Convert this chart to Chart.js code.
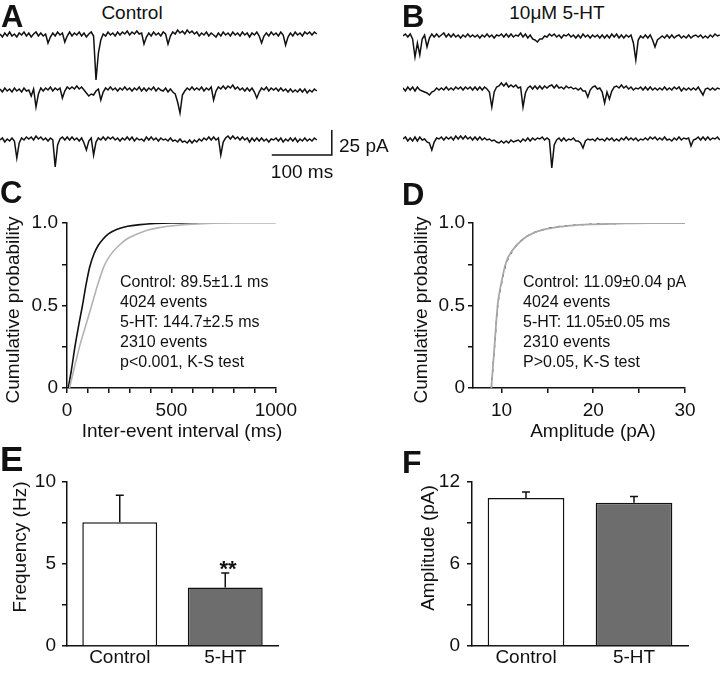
<!DOCTYPE html>
<html>
<head>
<meta charset="utf-8">
<script src="https://cdn.jsdelivr.net/npm/chart.js@4.4.0/dist/chart.umd.min.js"></script>
<style>
  html, body { margin: 0; padding: 0; background: #fff; }
  body { width: 720px; height: 673px; position: relative; overflow: hidden;
         font-family: "Liberation Sans", Arial, sans-serif; color: #111; }
  canvas { position: absolute; }
  .t { position: absolute; white-space: nowrap; line-height: 1; }
</style>
</head>
<body>
<canvas id="traceA1" width="345" height="60" style="left:0px;top:25px"></canvas>
<canvas id="traceA2" width="345" height="60" style="left:0px;top:80px"></canvas>
<canvas id="traceA3" width="345" height="60" style="left:0px;top:130px"></canvas>
<canvas id="traceB1" width="317" height="60" style="left:403px;top:27px"></canvas>
<canvas id="traceB2" width="317" height="60" style="left:403px;top:79px"></canvas>
<canvas id="traceB3" width="317" height="60" style="left:403px;top:130px"></canvas>
<canvas id="cdfInterval" width="303" height="246" style="left:0px;top:195px"></canvas>
<canvas id="cdfAmplitude" width="300" height="246" style="left:410px;top:195px"></canvas>
<canvas id="barFrequency" width="300" height="213" style="left:0px;top:460px"></canvas>
<canvas id="barAmplitude" width="300" height="213" style="left:410px;top:460px"></canvas>
<script>
// ---- data ----
// sample traces, pA relative to baseline, one sample every 4 ms
const sampleMs = 4;
const controlTrace1 = [
  1, -2, 2, -1, 3, -1, 1, -2, 2, 0,
  3, -1, 2, -2, 1, 3, -1, 2, -1, 1,
  -8, -2, 2, -1, 3, 0, 2, -7, -1, 3,
  -1, 2, 0, 3, -1, 2, -2, 1, 3, -1,
  -45, -18, -5, 1, -1, 3, 0, 2, -1, 3,
  0, 3, 1, 4, 0, 3, 1, 4, 1, 2,
  -9, -2, 2, -1, 3, 0, 2, -1, 3, 1,
  -9, -1, 3, 1, 5, 2, 4, 1, 5, 2,
  4, 1, 3, -1, 2, 0, 3, -1, 2, 0,
  -2, 2, -1, 3, 0, 2, -1, 3, 0, 2,
  -1, 3, 0, 2, -2, 2, 0, 3, -1, -8,
  -1, 2, -1, 3, 0, 2, -1, 3, 0, -10,
  -2, 2, -1, 3, 0, 2, -1, 3, 1, 3,
  0, 3, 1
];
const controlTrace2 = [
  1, -2, 2, -1, 1, -2, 2, -1, 1, -2,
  2, -1, 0, -6, 1, -17, -4, 2, -1, 2,
  0, 3, -1, 2, 0, 2, -8, -1, 3, 1,
  3, 1, 4, 1, 3, 0, -3, -6, -4, -5,
  -1, 1, -10, -2, 2, 0, 3, 0, 2, -1,
  2, 0, 3, 0, 2, -1, 2, 0, 3, -1,
  2, -1, 2, 0, 3, -1, 2, 0, -1, 2,
  -2, 1, -2, -4, -12, -23, -5, -1, 2, 0,
  3, 0, 2, 0, 3, -1, 2, 0, 3, -10,
  -1, 3, 1, 4, 1, 4, 2, 5, 1, 3,
  0, 2, -1, 2, -1, 2, -2, -8, -2, 2,
  0, 3, -1, 2, 0, 2, -1, 2, -1, 1,
  -2, 1, -2, 0, -2, 1, -2, 1, -3, 0,
  -2, 1, -1
];
const controlTrace3 = [
  0, 2, -2, 1, -1, 2, -1, -18, -3, 2,
  0, 3, 1, 3, 0, 4, 1, 3, 0, 2,
  -1, 2, 0, -27, -5, 1, 3, 0, 3, 0,
  3, 0, 2, -1, 2, -3, -10, -1, 2, -15,
  -2, 2, 0, 3, 0, 3, 1, 3, 0, 2,
  -1, 2, 0, 3, 0, 3, -1, 2, 0, 1,
  -1, 3, 0, 3, 0, 2, -1, 2, 0, 1,
  -1, 2, -1, 0, -2, 1, -2, -1, -3, 0,
  -3, 0, -2, 1, -1, 2, 0, 3, 0, 3,
  0, 2, -15, -2, 2, 4, 1, 4, 1, 3,
  0, 3, 0, 2, -2, 2, -1, 2, -1, 2,
  -1, 1, -2, 1, 0, 2, -1, 2, -2, 1,
  -1, 2, -1, 2, -2, 1, -1, 2, -1, 1,
  -1, 2, 0
];
const serotoninTrace1 = [
  1, 3, 0, 3, -2, -20, -6, -18, -2, 2,
  -10, -1, 3, 0, 3, 0, 2, 4, 0, 3,
  0, 3, 0, 2, -1, 2, 0, 3, 0, 2,
  0, 2, -1, 2, 0, 3, 0, 2, -1, 2,
  1, 3, 0, 3, 0, 3, 0, 2, 1, 4,
  0, 3, -1, 2, -2, -3, -5, -2, -2, 1,
  0, 3, 1, 3, 0, 2, -1, 2, 1, 3,
  0, 2, -1, 2, -1, 3, 0, 2, -1, 2,
  0, 2, -1, 2, -1, 2, -1, 3, 0, 3,
  -1, 2, -1, 2, 0, 2, -6, -23, -3, 1,
  -1, 2, -1, 2, -3, -10, -3, -1, 1, -1,
  2, -1, 2, -1, 1, 2, -1, 1, -1, 2,
  -1, 1, 2, 0, 2, -1, 1, -1, 2, 0,
  3, 1, 2
];
const serotoninTrace2 = [
  1, -2, 2, -1, 2, -2, 2, -1, -2, -3,
  -4, -6, -3, -2, 1, -1, 1, -1, 2, -1,
  1, -1, 2, 0, 2, -1, 2, 0, 2, -1,
  2, -1, 2, -1, 2, 0, -3, -18, -3, 2,
  3, 6, 3, 6, 2, 4, 2, 4, 1, 2,
  -18, -4, 1, 3, 0, 3, 0, 3, 0, 3,
  1, 3, 4, 1, 4, 1, 2, 0, 3, 1,
  2, 0, 1, -1, 1, -2, -2, -8, -1, 2,
  3, 0, 1, -3, -14, -3, -10, -2, 2, 3,
  1, 4, 1, 3, 0, 2, -1, 1, 0, 2,
  -1, 2, -1, 2, -1, 1, -1, 1, -1, 2,
  -1, 1, -1, 2, 0, 2, -2, 1, -1, 1,
  -1, 1, -1, 2, -2, -6, 0, 1, -1, 1,
  -1, 1, 0
];
const serotoninTrace3 = [
  1, 3, -1, 2, -1, 3, -1, 3, 0, 1,
  -2, -3, -10, -2, 2, 1, 3, 0, 3, 1,
  3, 0, 4, 1, 4, 1, 4, 1, 3, 0,
  3, 0, 3, 0, 2, 0, 1, -1, 0, -2,
  -3, -1, -3, -1, -3, 0, -2, -1, 0, -2,
  1, -1, 2, -1, 2, 0, 2, 1, 3, 0,
  2, 0, -28, -5, 0, 2, -1, 2, -1, 1,
  0, 2, -1, -1, -3, -8, -1, 1, 0, 1,
  -1, 2, 0, 1, -1, 2, 0, 2, -1, 1,
  -1, 2, 0, 3, 0, 2, 0, 2, -1, 1,
  0, 2, 0, 3, 1, 3, 0, 2, 0, 3,
  0, 1, -1, 2, 0, 3, 0, 2, 1, 2,
  -6, 0, 1, 3, 0, 3, 0, 3, 0, 2,
  1, 3, 0
];
const scaleBarMs = 100;
const scaleBarPa = 25;

// cumulative distributions
const intervalControlMs = [6, 20, 38, 56, 74, 91, 109, 130, 150, 171, 200, 240, 290, 350, 420, 500, 700];
const intervalControlProb = [0, 0.1, 0.25, 0.38, 0.5, 0.625, 0.735, 0.815, 0.865, 0.9, 0.935, 0.962, 0.98, 0.99, 0.997, 1, 1];
const interval5htMs = [12, 25, 40, 62, 90, 118, 148, 178, 210, 250, 283, 330, 380, 440, 520, 600, 800, 1000];
const interval5htProb = [0, 0.07, 0.15, 0.26, 0.38, 0.5, 0.63, 0.74, 0.81, 0.865, 0.9, 0.93, 0.955, 0.972, 0.985, 0.993, 1, 1];
const ampControlPa = [8.9, 9.25, 9.6, 10.0, 10.5, 11.2, 12.3, 13.5, 15.3, 17.5, 20, 23, 26, 30];
const ampControlProb = [0, 0.25, 0.5, 0.63, 0.75, 0.83, 0.9, 0.94, 0.97, 0.985, 0.993, 0.997, 1, 1];
const amp5htPa = [8.9, 9.25, 9.6, 10.0, 10.5, 11.2, 12.3, 13.5, 15.3, 17.5, 20, 23, 26, 30];
const amp5htProb = [0, 0.26, 0.51, 0.64, 0.76, 0.835, 0.9, 0.94, 0.968, 0.984, 0.992, 0.997, 1, 1];

// bar summaries
const groups = ['Control', '5-HT'];
const frequencyHz = [7.55, 3.56];
const frequencySem = [1.64, 0.89];
const amplitudePa = [10.83, 10.49];
const amplitudeSem = [0.44, 0.44];

// ticks
const probTicks = [0, 0.25, 0.5, 0.75, 1];
const probLabels = [0, 0.5, 1];
const probText = ['0', '0.5', '1.0'];
const intervalTicks = [0, 100, 200, 300, 400, 500, 600, 700, 800, 900, 1000];
const intervalLabels = [0, 500, 1000];
const ampTicks = [10, 15, 20, 25, 30];
const ampLabels = [10, 20, 30];
const freqTicks = [0, 2.5, 5, 7.5, 10];
const freqLabels = [0, 5, 10];
const barAmpTicks = [0, 3, 6, 9, 12];
const barAmpLabels = [0, 6, 12];

// ---- setup ----
Chart.defaults.font.family = '"Liberation Sans", Arial, sans-serif';
Chart.defaults.color = '#111';
Chart.defaults.animation = false;
Chart.defaults.responsive = false;
Chart.defaults.plugins.legend.display = false;
Chart.defaults.plugins.tooltip.enabled = false;

const ink = '#111';
const pxPerMs = 0.6; // 100 ms bar is 60 px wide

function toPoints(xs, ys) {
  return xs.map((x, i) => ({ x: x, y: ys[i] }));
}

function traceChart(id, values, extra) {
  const canvas = document.getElementById(id);
  const datasets = [{
    data: values.map((v, i) => ({ x: i * sampleMs, y: v })),
    borderColor: ink, borderWidth: 1.5, pointRadius: 0, tension: 0, clip: false
  }];
  if (extra) datasets.push(extra);
  return new Chart(canvas, {
    type: 'line',
    data: { datasets: datasets },
    options: {
      layout: { padding: 0 },
      scales: {
        x: { type: 'linear', display: false, min: 0, max: canvas.width / pxPerMs },
        y: { display: false, min: -50, max: 10 }
      }
    }
  });
}

function axis(size, vertical, ticks, labelVals, labelText, pad, extra) {
  return Object.assign({
    afterFit: s => { if (vertical) s.width = size; else s.height = size; },
    afterBuildTicks: s => { s.ticks = ticks.map(v => ({ value: v })); },
    ticks: {
      autoSkip: false, maxRotation: 0, padding: pad, color: ink, font: { size: 19 },
      callback: v => {
        const k = labelVals.indexOf(v);
        return k >= 0 ? (labelText ? labelText[k] : String(v)) : '';
      }
    },
    grid: { drawOnChartArea: false, drawTicks: true, tickLength: 5, color: ink, lineWidth: 1.5 },
    border: { color: ink, width: 1.5 }
  }, extra);
}

// error bars drawn upward from the top of each bar
const errorBars = {
  id: 'errorBars',
  afterDatasetsDraw(chart) {
    const ctx = chart.ctx;
    const y = chart.scales.y;
    chart.data.datasets.forEach((ds, di) => {
      if (!ds.errors) return;
      chart.getDatasetMeta(di).data.forEach((bar, i) => {
        const top = y.getPixelForValue(ds.data[i] + ds.errors[i]);
        ctx.save();
        ctx.strokeStyle = ink;
        ctx.lineWidth = 1.5;
        ctx.beginPath();
        ctx.moveTo(bar.x, bar.y);
        ctx.lineTo(bar.x, top);
        ctx.moveTo(bar.x - 4, top);
        ctx.lineTo(bar.x + 4, top);
        ctx.stroke();
        ctx.restore();
      });
    });
  }
};

// ---- traces ----
traceChart('traceA1', controlTrace1);
traceChart('traceA2', controlTrace2);
const barX = 453, barY = -15;
traceChart('traceA3', controlTrace3, {
  data: [{ x: barX, y: barY }, { x: barX + scaleBarMs, y: barY }, { x: barX + scaleBarMs, y: barY + scaleBarPa }],
  borderColor: ink, borderWidth: 1.5, pointRadius: 0, tension: 0, clip: false
});
traceChart('traceB1', serotoninTrace1);
traceChart('traceB2', serotoninTrace2);
traceChart('traceB3', serotoninTrace3);

// ---- cumulative plots ----
new Chart(document.getElementById('cdfInterval'), {
  type: 'line',
  data: {
    datasets: [
      { data: toPoints(interval5htMs, interval5htProb), borderColor: '#b3b3b3', borderWidth: 1.6,
        pointRadius: 0, cubicInterpolationMode: 'monotone' },
      { data: toPoints(intervalControlMs, intervalControlProb), borderColor: ink, borderWidth: 1.6,
        pointRadius: 0, cubicInterpolationMode: 'monotone' }
    ]
  },
  options: {
    layout: { padding: { top: 28, right: 25, left: 0, bottom: 0 } },
    scales: {
      x: axis(53, false, intervalTicks, intervalLabels, null, 6, { type: 'linear', min: 0, max: 1000 }),
      y: axis(67, true, probTicks, probLabels, probText, 4, { min: 0, max: 1 })
    }
  }
});

new Chart(document.getElementById('cdfAmplitude'), {
  type: 'line',
  data: {
    datasets: [
      { data: toPoints(amp5htPa, amp5htProb), borderColor: '#a8a8a8', borderWidth: 1.8,
        pointRadius: 0, cubicInterpolationMode: 'monotone' },
      { data: toPoints(ampControlPa, ampControlProb), borderColor: ink, borderWidth: 1.2,
        borderDash: [3, 5], pointRadius: 0, cubicInterpolationMode: 'monotone' }
    ]
  },
  options: {
    layout: { padding: { top: 28, right: 25, left: 0, bottom: 0 } },
    scales: {
      x: axis(53, false, ampTicks, ampLabels, null, 6, { type: 'linear', min: 6.9, max: 30 }),
      y: axis(63, true, probTicks, probLabels, probText, 3, { min: 0, max: 1 })
    }
  }
});

// ---- bar charts ----
function barChart(id, values, errors, yWidth, ticks, labels, max, pad) {
  return new Chart(document.getElementById(id), {
    type: 'bar',
    data: {
      labels: groups,
      datasets: [{
        data: values, errors: errors,
        backgroundColor: ['#ffffff', '#6d6d6d'], borderColor: ink, borderWidth: 1.5,
        categoryPercentage: 1, barPercentage: 0.71
      }]
    },
    options: {
      layout: { padding: { top: 22, right: 22, left: 0, bottom: 0 } },
      scales: {
        x: {
          afterFit: s => { s.height = 27; },
          ticks: { padding: 0, color: ink, font: { size: 19 } },
          grid: { drawOnChartArea: false, drawTicks: false },
          border: { color: ink, width: 1.5 }
        },
        y: axis(yWidth, true, ticks, labels, null, pad, { min: 0, max: max })
      }
    },
    plugins: [errorBars]
  });
}
barChart('barFrequency', frequencyHz, frequencySem, 67, freqTicks, freqLabels, 10, 6);
barChart('barAmplitude', amplitudePa, amplitudeSem, 62, barAmpTicks, barAmpLabels, 12, 7);

// ---- text ----
// [text, x, baseline, size, align, bold]
const texts = [
  ['A', 1, 27, 31, 'left', true],
  ['B', 402, 27, 31, 'left', true],
  ['C', 0, 203, 31, 'left', true],
  ['D', 402, 205, 31, 'left', true],
  ['E', 0, 471, 35, 'left', true],
  ['F', 402, 473, 32, 'left', true],
  ['Control', 132, 19, 19, 'center'],
  ['10\u03bcM 5-HT', 557, 19, 19, 'center'],
  ['25 pA', 339, 152, 19, 'left'],
  ['100 ms', 302, 178, 19, 'center'],
  ['Inter-event interval (ms)', 182, 437, 19, 'center'],
  ['Amplitude (pA)', 593, 437, 19, 'center'],
  ['Control: 89.5\u00b11.1 ms', 120, 288, 16, 'left'],
  ['4024 events', 120, 308, 16, 'left'],
  ['5-HT: 144.7\u00b12.5 ms', 120, 328, 16, 'left'],
  ['2310 events', 120, 348, 16, 'left'],
  ['p<0.001, K-S test', 120, 368, 16, 'left'],
  ['Control: 11.09\u00b10.04 pA', 523, 288, 16, 'left'],
  ['4024 events', 523, 308, 16, 'left'],
  ['5-HT: 11.05\u00b10.05 ms', 523, 328, 16, 'left'],
  ['2310 events', 523, 348, 16, 'left'],
  ['P>0.05, K-S test', 523, 368, 16, 'left'],
  ['**', 228, 577, 22, 'center', true]
];
texts.forEach(([s, x, base, size, align, bold]) => {
  const d = document.createElement('div');
  d.className = 't';
  d.textContent = s;
  d.style.fontSize = size + 'px';
  d.style.fontWeight = bold ? 'bold' : 'normal';
  d.style.left = x + 'px';
  d.style.top = (base - 0.8465 * size) + 'px';
  if (align === 'center') d.style.transform = 'translateX(-50%)';
  document.body.appendChild(d);
});
// rotated axis titles: [text, centerX, centerY]
const vTitles = [
  ['Cumulative probability', 12, 310],
  ['Cumulative probability', 420, 310],
  ['Frequency (Hz)', 19, 547],
  ['Amplitude (pA)', 427, 548]
];
vTitles.forEach(([s, cx, cy]) => {
  const d = document.createElement('div');
  d.className = 't';
  d.textContent = s;
  d.style.fontSize = '19px';
  d.style.left = cx + 'px';
  d.style.top = cy + 'px';
  d.style.transform = 'translate(-50%, -50%) rotate(-90deg)';
  document.body.appendChild(d);
});
</script>
</body>
</html>
